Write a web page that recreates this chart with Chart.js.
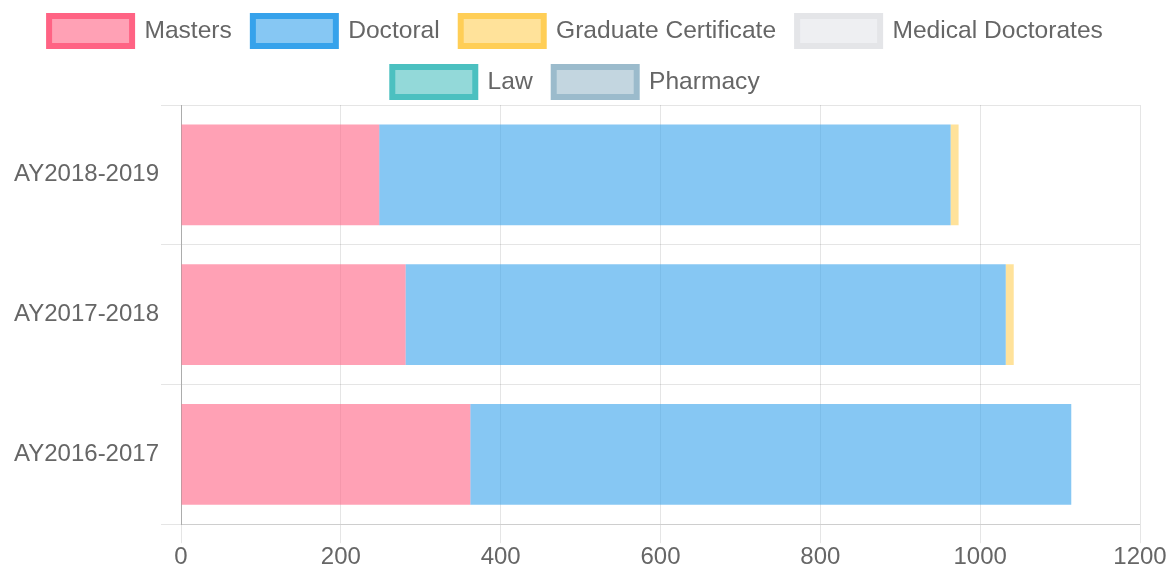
<!DOCTYPE html>
<html>
<head>
<meta charset="utf-8">
<script src="https://cdn.jsdelivr.net/npm/chart.js@4/dist/chart.umd.min.js"></script>
<style>
  html, body { margin: 0; padding: 0; background: #fff; }
  #wrap { width: 1173px; height: 572px; }
</style>
</head>
<body>
<div id="wrap"><canvas id="degreeChart"></canvas></div>
<script>
/* Degrees by academic year, horizontal stacked bar */

const years = ["AY2018-2019", "AY2017-2018", "AY2016-2017"];

const masters = [248, 281, 362];
const doctoral = [715, 751, 752];
const gradCertificate = [10, 10, 0];
const medicalDoctorates = [0, 0, 0];
const law = [0, 0, 0];
const pharmacy = [0, 0, 0];

const xTicks = [0, 200, 400, 600, 800, 1000, 1200];

const seriesStyle = [
    { label: "Masters", data: masters, border: "rgb(255,99,132)", fill: "rgba(255,99,132,0.6)" },
    { label: "Doctoral", data: doctoral, border: "rgb(54,162,235)", fill: "rgba(54,162,235,0.6)" },
    { label: "Graduate Certificate", data: gradCertificate, border: "rgb(255,206,86)", fill: "rgba(255,206,86,0.6)" },
    { label: "Medical Doctorates", data: medicalDoctorates, border: "rgb(228,229,232)", fill: "rgb(238,239,242)" },
    { label: "Law", data: law, border: "rgb(75,192,192)", fill: "rgba(75,192,192,0.6)" },
    { label: "Pharmacy", data: pharmacy, border: "rgb(155,187,204)", fill: "rgba(155,187,204,0.6)" }
];

const fontFamily = "Liberation Sans, Arial, sans-serif";

// the legend keeps its row spacing but takes less room above the bars
const legendTrim = {
    id: "legendTrim",
    beforeLayout(chart) {
        const lg = chart.legend;
        if (lg && !lg._trimmed) {
            const fit = lg.fit;
            lg.fit = function () {
                fit.call(this);
                this.height -= 2;
            };
            lg._trimmed = true;
        }
    }
};

const chartCanvas = document.getElementById("degreeChart");

new Chart(chartCanvas, {

    type: "bar",

    data: {
        labels: years,
        datasets: seriesStyle.map(s => ({
            label: s.label,
            data: s.data,
            backgroundColor: s.fill,
            borderColor: s.border,
            borderWidth: 0,
            legendBorder: s.border
        }))
    },

    plugins: [legendTrim],

    options: {

        indexAxis: "y",
        responsive: true,
        maintainAspectRatio: false,
        animation: false,

        layout: {
            padding: { left: 12, right: 33, top: -5, bottom: 0 }
        },

        scales: {
            x: {
                stacked: true,
                min: 0,
                max: 1200,
                afterBuildTicks: axis => {
                    axis.ticks = xTicks.map(v => ({ value: v }));
                },
                grid: {
                    color: "rgba(0,0,0,0.1)",
                    tickLength: 19
                },
                border: { color: "rgba(0,0,0,0.1)" },
                ticks: {
                    color: "#666",
                    padding: 0,
                    font: { size: 24, family: fontFamily },
                    callback: v => String(v)
                }
            },
            y: {
                stacked: true,
                grid: {
                    color: "rgba(0,0,0,0.1)",
                    tickLength: 20
                },
                border: { color: "rgba(0,0,0,0.25)" },
                ticks: {
                    color: "#666",
                    padding: 2,
                    font: { size: 24, family: fontFamily }
                }
            }
        },

        plugins: {
            legend: {
                position: "top",
                labels: {
                    color: "#666",
                    boxWidth: 83,
                    boxHeight: 30,
                    padding: 21,
                    font: { size: 24.6, family: fontFamily },
                    generateLabels: chart => chart.data.datasets.map((ds, i) => ({
                        text: ds.label,
                        fillStyle: ds.backgroundColor,
                        strokeStyle: ds.legendBorder,
                        lineWidth: 6,
                        fontColor: "#666",
                        hidden: !chart.isDatasetVisible(i),
                        datasetIndex: i
                    }))
                }
            },
            tooltip: { enabled: true }
        }
    }

});
</script>
</body>
</html>
